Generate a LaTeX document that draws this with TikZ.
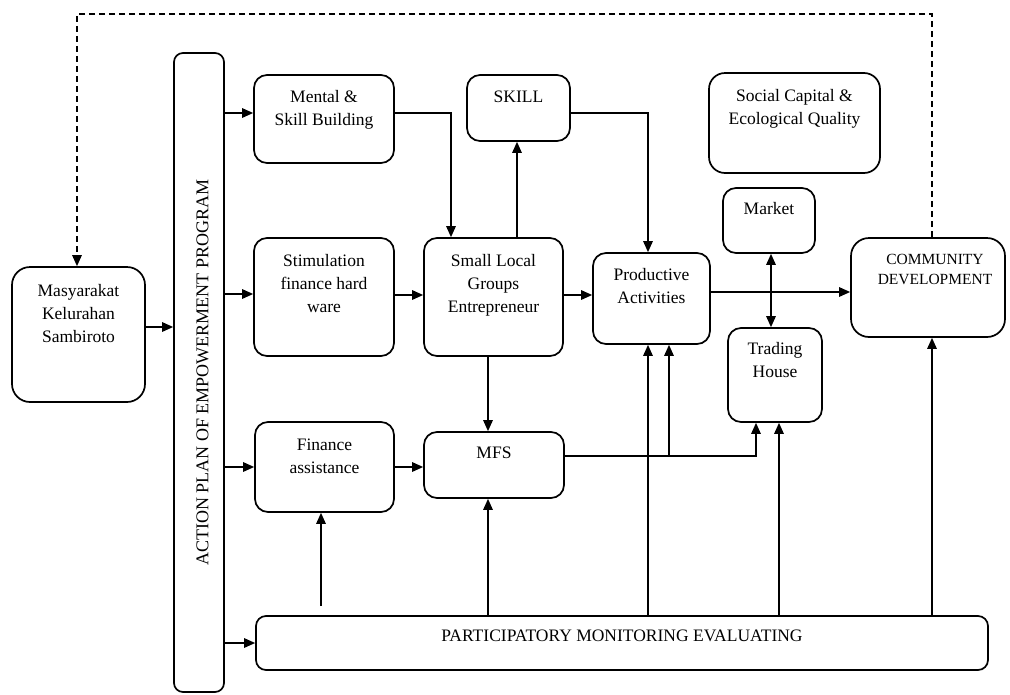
\documentclass[tikz,border=0pt]{standalone}
\usepackage{fontspec}
\setmainfont{Liberation Serif}
\usetikzlibrary{arrows.meta}
\tikzset{
  box/.style={draw, line width=1.7pt, rounded corners=13pt, inner sep=0pt},
  lbl/.style={anchor=base, align=center, inner sep=0pt, font=\fontsize{17.5}{23}\selectfont},
  arr/.style={line width=1.4pt, -{Triangle[length=11pt,width=9.5pt]}},
  darr/.style={line width=1.4pt, {Triangle[length=11pt,width=9.5pt]}-{Triangle[length=11pt,width=9.5pt]}},
}
\begin{document}
\begin{tikzpicture}[x=1pt,y=-1pt]
\useasboundingbox (0,0) rectangle (1010,694);
% boxes
\node[box, rounded corners=18pt, minimum width=133pt, minimum height=135pt,
  label={[lbl, yshift=-76pt]north:Masyarakat\\Kelurahan\\Sambiroto}] (masy) at (78.5,334.5) {};
\node[box, rounded corners=9pt, minimum width=50pt, minimum height=639pt] (action) at (199,372.5) {};
\node[rotate=90, inner sep=0pt, font=\fontsize{18}{23}\selectfont] (actiontext) at (202.5,372.5) {ACTION PLAN OF EMPOWERMENT PROGRAM};
\node[box, minimum width=140pt, minimum height=88pt,
  label={[lbl, yshift=-51.3pt]north:Mental \&\\Skill Building}] (mental) at (324,119) {};
\node[box, minimum width=103pt, minimum height=66pt,
  label={[lbl, yshift=-28.3pt]north:SKILL}] (skill) at (518.5,108) {};
\node[box, minimum width=140pt, minimum height=118pt,
  label={[lbl, yshift=-75.3pt]north:Stimulation\\finance hard\\ware}] (stim) at (324,297) {};
\node[box, minimum width=139pt, minimum height=118pt,
  label={[lbl, yshift=-75.3pt]north:Small Local\\Groups\\Entrepreneur}] (slg) at (493.5,297) {};
\node[box, minimum width=117pt, minimum height=91pt,
  label={[lbl, yshift=-51.7pt]north:Productive\\Activities}] (prod) at (651.5,298.5) {};
\node[box, rounded corners=16pt, minimum width=171pt, minimum height=100pt,
  label={[lbl, yshift=-52.7pt]north:Social Capital \&\\Ecological Quality}] (social) at (794.5,123) {};
\node[box, minimum width=92pt, minimum height=65pt,
  label={[lbl, yshift=-27pt]north:Market}] (market) at (769,220.5) {};
\node[box, minimum width=94pt, minimum height=94pt,
  label={[lbl, yshift=-50pt]north:Trading\\House}] (trading) at (775,375) {};
\node[box, rounded corners=18pt, minimum width=154pt, minimum height=99pt,
  label={[lbl, font=\fontsize{15.5}{20}\selectfont, yshift=-47pt, xshift=7pt]north:COMMUNITY\\DEVELOPMENT}] (comm) at (928,287.5) {};
\node[box, minimum width=139pt, minimum height=90pt,
  label={[lbl, yshift=-52.7pt]north:Finance\\assistance}] (fin) at (324.5,467) {};
\node[box, minimum width=140pt, minimum height=66pt,
  label={[lbl, yshift=-27pt]north:MFS}] (mfs) at (494,465) {};
\node[box, rounded corners=10pt, minimum width=732pt, minimum height=54pt,
  label={[lbl, yshift=-26pt]north:PARTICIPATORY MONITORING EVALUATING}] (pme) at (622,643) {};
% connectors
\coordinate (fa) at (321,606);
\coordinate (j) at (669,456);
\coordinate (dtr) at (932,14);
\coordinate (dtl) at (77,14);
\draw[arr] (masy.east |- 0,327) -- (action.west |- 0,327);
\draw[arr] (action.east |- 0,113) -- (mental.west |- 0,113);
\draw[arr] (action.east |- 0,294) -- (stim.west |- 0,294);
\draw[arr] (action.east |- fin.west) -- (fin.west);
\draw[arr] (action.east |- pme.west) -- (pme.west);
\draw[arr] (stim.east |- 0,295) -- (slg.west |- 0,295);
\draw[arr] (slg.east |- 0,295) -- (prod.west |- 0,295);
\draw[arr] (mental.east |- 0,113) -| (slg.north -| 451,0);
\draw[arr] (slg.north -| 517,0) -- (skill.south -| 517,0);
\draw[arr] (skill.east |- 0,113) -| (prod.north -| 648,0);
\draw[arr] (slg.south -| 488,0) -- (mfs.north -| 488,0);
\draw[arr] (fin.east) -- (mfs.west |- fin.east);
\draw[arr] (mfs.east |- j) -| (trading.south -| 756,0);
\draw[arr] (j) -- (prod.south -| j);
\draw[arr] (pme.north -| 648,0) -- (prod.south -| 648,0);
\draw[arr] (pme.north -| 779,0) -- (trading.south -| 779,0);
\draw[arr] (pme.north -| 932,0) -- (comm.south -| 932,0);
\draw[arr] (pme.north -| 488,0) -- (mfs.south -| 488,0);
\draw[arr] (fa) -- (fin.south -| fa);
\draw[darr] (market.south -| 771,0) -- (trading.north -| 771,0);
\draw[arr] (prod.east |- 0,292) -- (comm.west |- 0,292);
\draw[arr, dash pattern=on 6pt off 4pt] (comm.north -| dtr) -- (dtr) -- (dtl) -- (masy.north -| dtl);
\end{tikzpicture}
\end{document}
